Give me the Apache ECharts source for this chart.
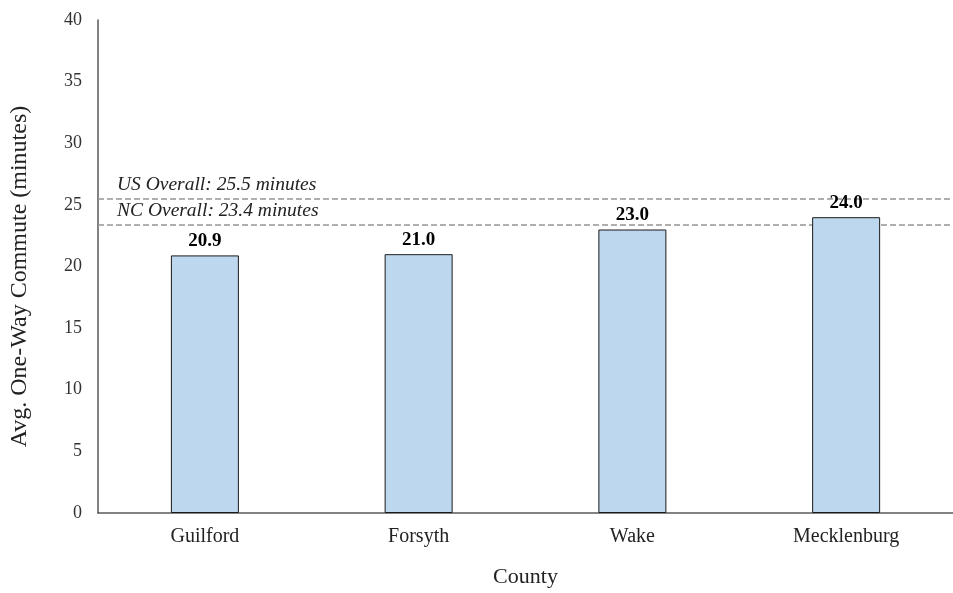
<!DOCTYPE html>
<html>
<head>
<meta charset="utf-8">
<script src="https://cdn.jsdelivr.net/npm/echarts@6/dist/echarts.min.js"></script>
<style>
  html, body { margin: 0; padding: 0; background: #fff; }
  #chart { width: 953px; height: 593px; }
</style>
</head>
<body>
<div id="chart"></div>
<script>
// Average one-way commute time by county, with state and national reference lines
const counties = ['Guilford', 'Forsyth', 'Wake', 'Mecklenburg'];
const commuteMinutes = [20.9, 21.0, 23.0, 24.0];
const referenceNames = ['US Overall', 'NC Overall'];
const referenceMinutes = [25.5, 23.4];

const serif = '"Liberation Serif", "Times New Roman", serif';

const chart = echarts.init(document.getElementById('chart'), null, { renderer: 'canvas' });

const referenceLines = referenceNames.map((name, i) => ({
  name: name,
  yAxis: referenceMinutes[i],
  label: {
    formatter: name + ': ' + referenceMinutes[i].toFixed(1) + ' minutes'
  }
}));

chart.setOption({
  animation: false,
  backgroundColor: '#ffffff',
  grid: { left: 94, top: 20, width: 868, height: 508, containLabel: false },
  xAxis: {
    type: 'category',
    data: counties,
    name: 'County',
    nameLocation: 'middle',
    nameGap: 53,
    nameTextStyle: { fontFamily: serif, fontSize: 22, color: '#222' },
    axisLine: { lineStyle: { color: '#595959', width: 1.5 } },
    axisTick: { show: false },
    axisLabel: { fontFamily: serif, fontSize: 20, color: '#222', margin: 14 }
  },
  yAxis: {
    type: 'value',
    min: 0,
    max: 40,
    interval: 5,
    name: 'Avg. One-Way Commute (minutes)',
    nameLocation: 'middle',
    nameGap: 66,
    nameTextStyle: { fontFamily: serif, fontSize: 24, color: '#222', padding: [0, 20, 0, 0] },
    axisLine: { show: true, lineStyle: { color: '#595959', width: 1.5 } },
    axisTick: { show: false },
    splitLine: { show: false },
    axisLabel: { fontFamily: serif, fontSize: 18, color: '#333', margin: 16 }
  },
  series: [{
    type: 'bar',
    data: commuteMinutes,
    barWidth: 68,
    z: 2,
    itemStyle: { color: '#BDD7EE', borderColor: '#1a1a1a', borderWidth: 1 },
    label: {
      show: true,
      position: 'top',
      distance: 5,
      formatter: p => p.value.toFixed(1),
      fontFamily: serif,
      fontWeight: 'bold',
      fontSize: 19,
      color: '#000'
    },
    markLine: {
      z: 1,
      silent: true,
      symbol: 'none',
      lineStyle: { type: [6, 3], color: '#959595', width: 1.5 },
      label: {
        position: 'insideStartTop',
        distance: [19, 4],
        fontFamily: serif,
        fontStyle: 'italic',
        fontSize: 19.5,
        color: '#222'
      },
      data: referenceLines
    }
  }]
});
</script>
</body>
</html>
